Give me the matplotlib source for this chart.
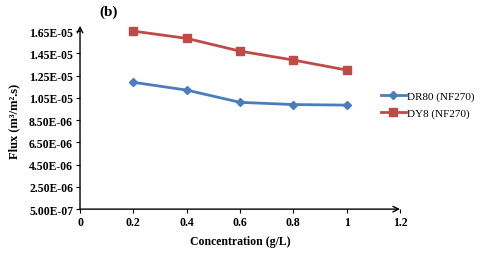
import matplotlib.pyplot as plt
from matplotlib.ticker import FuncFormatter

conc = [0.2, 0.4, 0.6, 0.8, 1.0]
dr80 = [1.19e-05, 1.12e-05, 1.01e-05, 9.9e-06, 9.85e-06]
dy8 = [1.65e-05, 1.585e-05, 1.47e-05, 1.39e-05, 1.30e-05]
yticks = [5.0e-07, 2.5e-06, 4.5e-06, 6.5e-06, 8.5e-06, 1.05e-05, 1.25e-05, 1.45e-05, 1.65e-05]
xticks = [0, 0.2, 0.4, 0.6, 0.8, 1, 1.2]

plt.rcParams['font.family'] = ['Liberation Serif', 'DejaVu Serif']

fig = plt.figure(figsize=(4.8, 2.55), dpi=100)
ax = fig.add_axes([0.1667, 0.176, 0.6667, 0.698])

ax.plot(conc, dr80, color='#4a7ebb', marker='D', markersize=4, linewidth=2,
        label='DR80 (NF270)', clip_on=False)
ax.plot(conc, dy8, color='#be4b48', marker='s', markersize=6, linewidth=2,
        label='DY8 (NF270)', clip_on=False)

ax.set_xlim(0, 1.2)
ax.set_ylim(5.0e-07, 1.65e-05)
ax.set_xticks(xticks)
ax.set_xticklabels(['0', '0.2', '0.4', '0.6', '0.8', '1', '1.2'])
ax.set_yticks(yticks)
ax.yaxis.set_major_formatter(FuncFormatter(lambda v, p: f"{v:.2E}"))
ax.tick_params(labelsize=8.5, direction='out', length=3, width=0.8, pad=2)
for lab in ax.get_xticklabels() + ax.get_yticklabels():
    lab.set_fontweight('bold')

for s in ax.spines.values():
    s.set_visible(False)

# axes drawn as arrows
ax.annotate('', xy=(1.0, 0), xytext=(0, 0), xycoords='axes fraction',
            arrowprops=dict(arrowstyle='->', color='black', lw=1.0,
                            shrinkA=0, shrinkB=0), annotation_clip=False)
ax.annotate('', xy=(0, 1.03), xytext=(0, 0), xycoords='axes fraction',
            arrowprops=dict(arrowstyle='->', color='black', lw=1.0,
                            shrinkA=0, shrinkB=0), annotation_clip=False)

ax.set_xlabel('Concentration (g/L)', fontsize=8.5, fontweight='bold', labelpad=5)
ax.set_ylabel('Flux (m³/m².s)', fontsize=9, fontweight='bold', labelpad=6)
fig.text(0.208, 0.95, '(b)', fontsize=11, fontweight='bold', va='center')

ax.legend(loc='center left', bbox_to_anchor=(0.772, 0.585), bbox_transform=fig.transFigure,
          frameon=False, fontsize=8, handlelength=2.3, handletextpad=0.1, labelspacing=0.6)

fig.savefig('out.png', dpi=100)
